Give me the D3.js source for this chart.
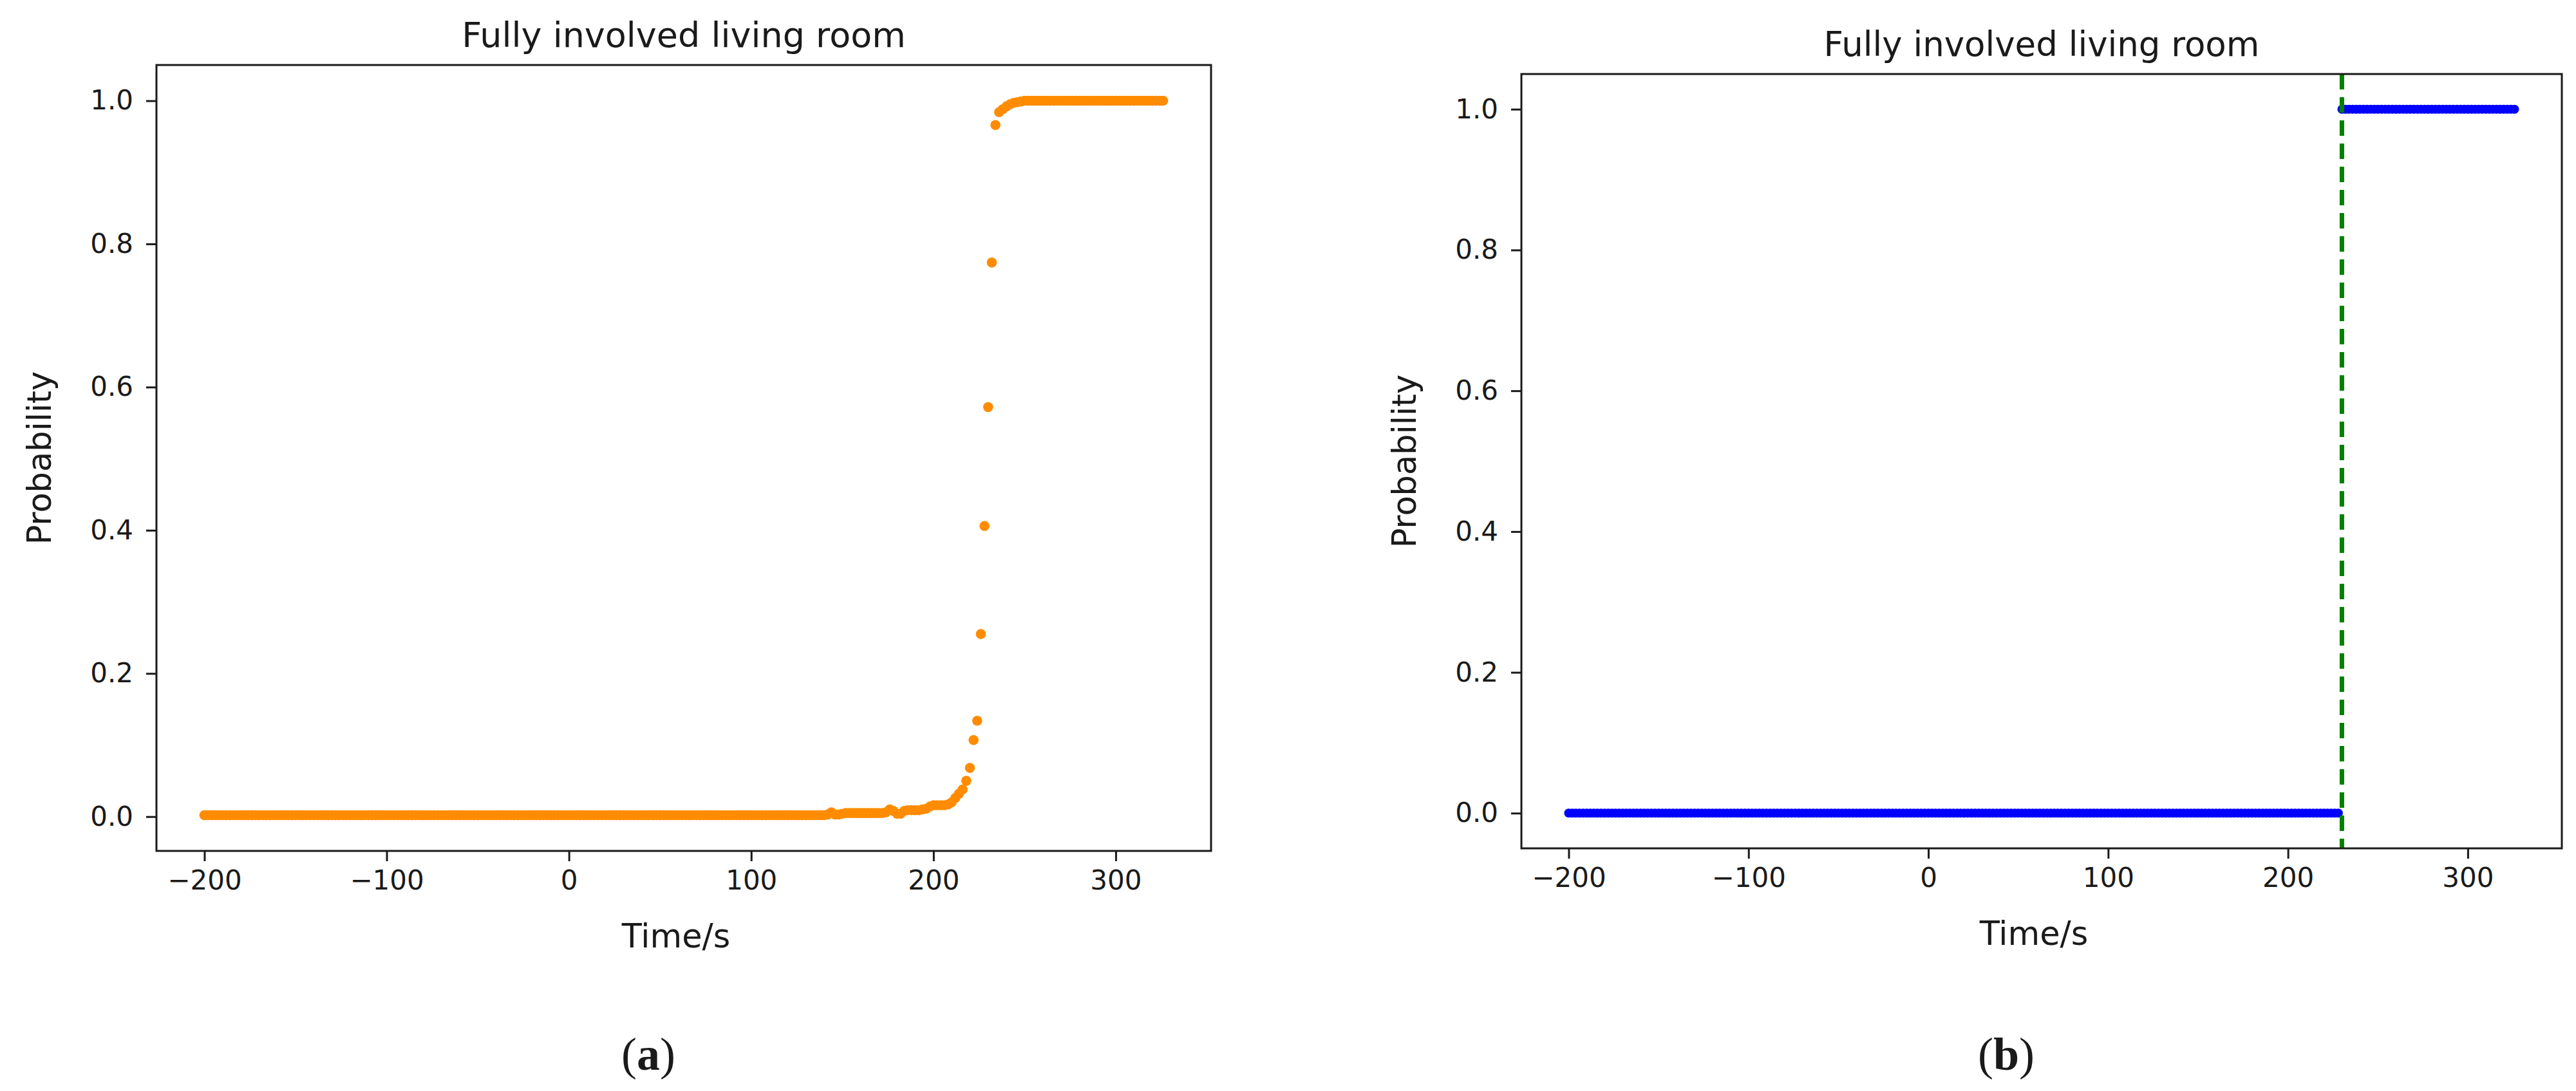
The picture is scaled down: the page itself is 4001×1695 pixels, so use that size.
<!DOCTYPE html>
<html>
<head>
<meta charset="utf-8">
<script src="https://cdn.jsdelivr.net/npm/d3@7"></script>
<style>
  html, body { margin: 0; padding: 0; background: #fff; }
  svg text { font-family: "DejaVu Sans", sans-serif; fill: #1a1a1a; }
  .panel-tag { font-family: "Liberation Serif", "DejaVu Serif", serif; }
</style>
</head>
<body>
<svg id="fig" width="4001" height="1695"></svg>
<script>
'use strict';

// ─── Data (sampling step 2 s) ───────────────────────────────────

const TIME_STEP = 2;
const xTicks = [-200, -100, 0, 100, 200, 300];
const yTicks = [0, 0.2, 0.4, 0.6, 0.8, 1.0];
const panelTitle = 'Fully involved living room';
const xLabel = 'Time/s';
const yLabel = 'Probability';

// (a) predicted probability: flat stretches as [from, to, p]
const orangeFlat = [
    [-200, 140, 0.002],
    [250, 326, 1.0],
];
// (a) the rising part, one point per sample: [time, p]
const orangeRise = [
    [142, 0.003], [144, 0.006], [146, 0.003], [148, 0.003], [150, 0.004],
    [152, 0.005], [154, 0.005], [156, 0.005], [158, 0.005], [160, 0.005],
    [162, 0.005], [164, 0.005], [166, 0.005], [168, 0.005], [170, 0.005],
    [172, 0.005], [174, 0.006], [176, 0.010], [178, 0.008], [180, 0.004],
    [182, 0.004], [184, 0.008], [186, 0.009], [188, 0.009], [190, 0.009],
    [192, 0.009], [194, 0.010], [196, 0.011], [198, 0.014], [200, 0.016],
    [202, 0.016], [204, 0.016], [206, 0.016], [208, 0.017], [210, 0.020],
    [212, 0.026], [214, 0.032], [216, 0.038], [218, 0.050], [220, 0.068],
    [222, 0.107], [224, 0.134], [226, 0.255], [228, 0.406], [230, 0.572],
    [232, 0.774], [234, 0.966], [236, 0.984], [238, 0.988], [240, 0.992],
    [242, 0.995], [244, 0.997], [246, 0.998], [248, 0.999],
];

// (b) thresholded output and the detection time
const blueFlat = [
    [-200, 228, 0],
    [230, 326, 1],
];
const detectTime = 230;

// ─── Helpers ────────────────────────────────────────────────────

function expandFlat(runs) {
    const pts = [];
    runs.forEach(([from, to, p]) => {
        for (let t = from; t <= to; t += TIME_STEP) pts.push([t, p]);
    });
    return pts;
}

// matplotlib style 5% margins
function padded(ext) {
    const m = (ext[1] - ext[0]) * 0.05;
    return [ext[0] - m, ext[1] + m];
}

const minus = s => s.replace('-', '\u2212');

const svg = d3.select('#fig');

function drawPanel(opt) {
    const { box, points, color, radius, tag } = opt;

    const x = d3.scaleLinear()
        .domain(padded(d3.extent(points, d => d[0])))
        .range([box.left, box.right]);
    const y = d3.scaleLinear()
        .domain(padded(d3.extent(points, d => d[1])))
        .range([box.bottom, box.top]);

    const g = svg.append('g');

    // points
    g.append('g').selectAll('circle')
        .data(points)
        .join('circle')
        .attr('cx', d => x(d[0]))
        .attr('cy', d => y(d[1]))
        .attr('r', radius)
        .attr('fill', color);

    if (opt.vline !== undefined) {
        g.append('line')
            .attr('x1', x(opt.vline)).attr('x2', x(opt.vline))
            .attr('y1', box.top).attr('y2', box.bottom)
            .attr('stroke', '#008000')
            .attr('stroke-width', 7)
            .attr('stroke-dasharray', '24 12');
    }

    // axes
    const xAxis = d3.axisBottom(x).tickValues(xTicks)
        .tickFormat(d => minus(d3.format('d')(d)))
        .tickSize(16).tickPadding(14);
    const yAxis = d3.axisLeft(y).tickValues(yTicks)
        .tickFormat(d3.format('.1f'))
        .tickSize(16).tickPadding(20);

    const gx = g.append('g')
        .attr('transform', `translate(0,${box.bottom})`)
        .call(xAxis);
    const gy = g.append('g')
        .attr('transform', `translate(${box.left},0)`)
        .call(yAxis);

    [gx, gy].forEach(a => {
        a.select('.domain').remove();
        a.selectAll('.tick line').attr('stroke', '#1a1a1a').attr('stroke-width', 3);
        a.selectAll('.tick text').attr('font-size', 42).attr('fill', '#1a1a1a');
    });

    // frame
    g.append('rect')
        .attr('x', box.left).attr('y', box.top)
        .attr('width', box.right - box.left)
        .attr('height', box.bottom - box.top)
        .attr('fill', 'none')
        .attr('stroke', '#1a1a1a')
        .attr('stroke-width', 3);

    const cx = (box.left + box.right) / 2;

    g.append('text')
        .attr('x', cx).attr('y', box.top - 28)
        .attr('text-anchor', 'middle')
        .attr('font-size', opt.titleSize)
        .text(panelTitle);

    g.append('text')
        .attr('x', cx - 12).attr('y', box.bottom + 150)
        .attr('text-anchor', 'middle')
        .attr('font-size', 51)
        .attr('fill', '#333')
        .text(xLabel);

    g.append('text')
        .attr('transform', `translate(${box.left - 164},${(box.top + box.bottom) / 2}) rotate(-90)`)
        .attr('text-anchor', 'middle')
        .attr('font-size', 51)
        .attr('fill', '#333')
        .text(yLabel);

    const tagText = g.append('text')
        .attr('class', 'panel-tag')
        .attr('x', cx - 55).attr('y', 1662)
        .attr('text-anchor', 'middle')
        .attr('font-size', 72)
        .attr('fill', '#000');
    tagText.append('tspan').text('(');
    tagText.append('tspan').attr('font-weight', 'bold').text(tag);
    tagText.append('tspan').text(')');
}

const orangePoints = expandFlat(orangeFlat).concat(orangeRise)
    .sort((a, b) => a[0] - b[0]);
const bluePoints = expandFlat(blueFlat);

drawPanel({
    box: { left: 243, right: 1881, top: 101, bottom: 1322 },
    points: orangePoints,
    color: '#ff8c00',
    radius: 7.8,
    titleSize: 54,
    tag: 'a',
});

drawPanel({
    box: { left: 2363, right: 3979, top: 115, bottom: 1318 },
    points: bluePoints,
    color: '#0000ff',
    radius: 7,
    titleSize: 53,
    vline: detectTime,
    tag: 'b',
});
</script>
</body>
</html>
